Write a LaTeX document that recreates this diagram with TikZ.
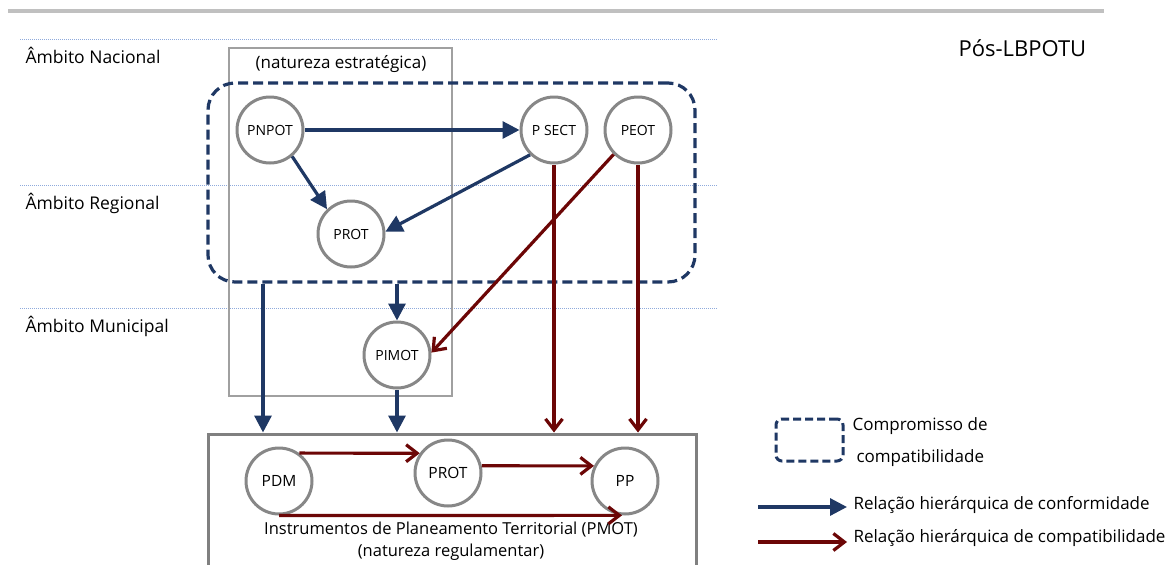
\documentclass[tikz,border=0pt]{standalone}
\usepackage{fontspec}
\setmainfont{Open Sans}
\usetikzlibrary{arrows.meta}

\definecolor{navy}{RGB}{31,56,100}
\definecolor{wine}{RGB}{108,6,6}
\definecolor{ringgray}{RGB}{135,135,135}
\definecolor{framegray}{RGB}{128,128,128}
\definecolor{thingray}{RGB}{160,160,160}
\definecolor{rulegray}{RGB}{192,192,192}
\definecolor{guideblue}{RGB}{143,170,220}

\tikzset{
  plan/.style={circle, draw=ringgray, line width=3pt, fill=white,
    minimum size=66pt, inner sep=0pt, font=\fontsize{14}{16}\selectfont},
  planb/.style={plan, font=\fontsize{15.5}{18}\selectfont},
  conf/.style={draw=navy, line width=3.2pt, -{Triangle[length=17pt,width=17pt]}},
  compat/.style={draw=wine, line width=3.2pt, -{Straight Barb[length=11pt,width=17pt]}},
  compbox/.style={draw=navy, line width=3.2pt, dash pattern=on 10pt off 5pt},
  guide/.style={draw=guideblue, line width=0.9pt, dash pattern=on 1pt off 1pt},
  level/.style={anchor=base west, font=\fontsize{17.5}{20}\selectfont},
  legendtext/.style={anchor=west, font=\fontsize{17}{20}\selectfont},
}

\begin{document}
\begin{tikzpicture}[x=1pt,y=-1pt]
\clip (0,0) rectangle (1176,565);
\fill[white] (0,0) rectangle (1176,565);

% header rule
\draw[rulegray, line width=3.5pt] (8,11) -- (1104,11);

% level guides
\draw[guide] (20,39) -- (717,39);
\draw[guide] (20,185) -- (717,185);
\draw[guide] (20,308) -- (717,308);

\node[level] (nac) at (22,63) {Âmbito Nacional};
\node[level] (reg) at (22,209) {Âmbito Regional};
\node[level] (mun) at (22,332) {Âmbito Municipal};

\node[anchor=base west, font=\fontsize{22}{25}\selectfont] (pos) at (955,56) {Pós-LBPOTU};

% strategic frame
\node[draw=thingray, line width=1.2pt, minimum width=223pt, minimum height=348pt,
  inner sep=0pt] (strat) at (340.5,222) {};
\node[font=\fontsize{17}{20}\selectfont] (stratlbl) at (341,64) {(natureza estratégica)};

% compatibility commitment
\node[compbox, rounded corners=27pt, minimum width=487pt, minimum height=199pt,
  inner sep=0pt] (comp) at (451.5,182.5) {};

% regulatory frame
\node[draw=framegray, line width=3pt, minimum width=488pt, minimum height=200pt,
  inner sep=0pt] (pmot) at (452,534) {};
\node[font=\fontsize{16.5}{21.5}\selectfont, align=center] (pmotlbl) at (451,541)
  {Instrumentos de Planeamento Territorial (PMOT)\\(natureza regulamentar)};

% plans
\node[plan] (PNPOT) at (270,130) {PNPOT};
\node[plan] (PSECT) at (554,130) {P SECT};
\node[plan] (PEOT) at (638,130) {PEOT};
\node[plan] (PROTr) at (351,234) {PROT};
\node[plan] (PIMOT) at (397,355) {PIMOT};
\node[planb] (PDM) at (279,481) {PDM};
\node[planb] (PROTb) at (448,473) {PROT};
\node[planb] (PP) at (625,481) {PP};

% conformity relations
\draw[conf] (PNPOT) -- (PSECT);
\draw[conf] (PNPOT.-50) -- (PROTr.134);
\draw[conf] (PSECT.226) -- (PROTr.4);
\coordinate (xl) at (263,0);
\draw[conf] (comp.south -| xl) -- (pmot.north -| xl);
\draw[conf] (comp.south -| PIMOT) -- (PIMOT.north);
\draw[conf] (PIMOT.south) -- (pmot.north -| PIMOT);

% compatibility relations
\draw[compat] (PSECT.south) -- (pmot.north -| PSECT);
\draw[compat] (PEOT.south) -- (pmot.north -| PEOT);
\draw[compat] (PEOT.225) -- (PIMOT.4);
\draw[compat] (PDM.54) -- (PROTb.145);
\draw[compat] (PROTb.12) -- (PP.154);
\draw[compat] (PDM.south) -- (PP.-95);

% legend
\node[compbox, line width=3pt, dash pattern=on 8pt off 4pt, rounded corners=6pt,
  minimum width=67pt, minimum height=42pt, inner sep=0pt] (legbox) at (809.5,440) {};
\node[legendtext] (legboxt1) at (849,426) {Compromisso de};
\node[legendtext] (legboxt2) at (853,458) {compatibilidade};

\coordinate (lc1) at (758,507);
\coordinate (lc2) at (847,507);
\draw[conf] (lc1) -- (lc2);
\node[legendtext] (legconf) at (850,505) {Relação hierárquica de conformidade};

\coordinate (lp1) at (758,542);
\coordinate (lp2) at (847,542);
\draw[compat] (lp1) -- (lp2);
\node[legendtext] (legcompat) at (850,538) {Relação hierárquica de compatibilidade};
\end{tikzpicture}
\end{document}
